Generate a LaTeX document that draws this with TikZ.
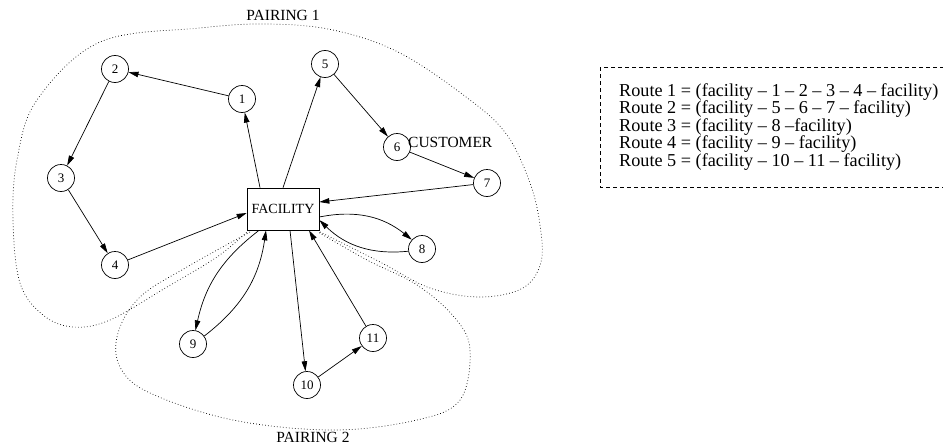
\documentclass[tikz,border=0pt]{standalone}
\usepackage{fontspec}
\setmainfont{Liberation Serif}
\usetikzlibrary{positioning, arrows.meta}

\begin{document}
\begin{tikzpicture}[
    x=1pt, y=-1pt,
    cust/.style={draw, circle, minimum size=27pt, inner sep=0pt, line width=0.7pt, font=\fontsize{13}{15}\selectfont},
    facbox/.style={draw, fill=white, minimum width=72pt, minimum height=42pt, line width=0.7pt, font=\fontsize{14}{16}\selectfont},
    arr/.style={-{Triangle[length=10pt, width=5.5pt]}, line width=0.7pt},
    pairing/.style={line width=0.7pt, dash pattern=on 0.7pt off 2.3pt},
    lbl/.style={inner sep=0pt, font=\fontsize{15.5}{17}\selectfont}
]
\useasboundingbox (0,0) rectangle (943,447);

% pairing areas
\draw[pairing] plot[smooth, tension=0.6] coordinates {
    (320,232) (380,262) (430,288) (480,297) (523,288) (541,262) (540,225)
    (530,183) (507,135) (470,100) (400,53) (333,30) (267,24) (200,28)
    (100,42) (37,100) (17,160) (13,220) (20,283) (43,315) (73,327)
    (110,320) (167,287) (217,257) (247,232)};
\draw[pairing] plot[smooth, tension=0.6] coordinates {
    (250,232) (187,267) (140,297) (118,333) (120,367) (150,393) (233,420)
    (333,430) (417,420) (460,400) (470,350) (455,318) (417,285) (367,260)
    (318,232)};

% facility and customers
\node[facbox] (fac) at (283,209) {FACILITY};
\node[cust] (c1) at (242,99) {1};
\node[cust] (c2) at (115,69) {2};
\node[cust] (c3) at (61,178) {3};
\node[cust] (c4) at (115,265) {4};
\node[cust] (c5) at (325,64) {5};
\node[cust] (c6) at (397,147) {6};
\node[cust] (c7) at (487,183) {7};
\node[cust] (c8) at (422,249) {8};
\node[cust] (c9) at (193,344) {9};
\node[cust] (c10) at (307,385) {10};
\node[cust] (c11) at (373,338) {11};

% route 1
\draw[arr] ([xshift=-23pt]fac.north) -- (c1);
\draw[arr] (c1) -- (c2);
\draw[arr] (c2) -- (c3);
\draw[arr] (c3) -- (c4);
\draw[arr] (c4) -- ([yshift=-4pt]fac.west);
% route 2
\draw[arr] (fac.north) -- (c5);
\draw[arr] (c5) -- (c6);
\draw[arr] (c6) -- (c7);
\draw[arr] (c7) -- ([yshift=7pt]fac.east);
% route 3
\draw[arr] ([yshift=-8pt]fac.east) to[bend left=25] (c8);
\draw[arr] (c8) to[bend left=25] ([yshift=-11pt]fac.east);
% route 4
\draw[arr] ([xshift=-24pt]fac.south) to[bend right=20] (c9);
\draw[arr] (c9) to[bend right=22] ([xshift=-17pt]fac.south);
% route 5
\draw[arr] ([xshift=7pt]fac.south) -- (c10);
\draw[arr] (c10) -- (c11);
\draw[arr] (c11) -- ([xshift=26pt]fac.south);

\node[lbl] (pair1) at (283,15) {PAIRING 1};
\node[lbl] (pair2) at (313,437) {PAIRING 2};
\node[lbl, anchor=west] (custlbl) at (408,142) {CUSTOMER};

% route list
\draw[line width=0.6pt, dash pattern=on 4pt off 3pt] (600,67) rectangle (960,187);
\node[anchor=north west, align=left, inner sep=0pt, font=\fontsize{18.2}{17.5}\selectfont] (routes) at (619,83) {
    Route 1 = (facility -- 1 -- 2 -- 3 -- 4 -- facility)\\
    Route 2 = (facility -- 5 -- 6 -- 7 -- facility)\\
    Route 3 = (facility -- 8 --facility)\\
    Route 4 = (facility -- 9 -- facility)\\
    Route 5 = (facility -- 10 -- 11 -- facility)};
\end{tikzpicture}
\end{document}
